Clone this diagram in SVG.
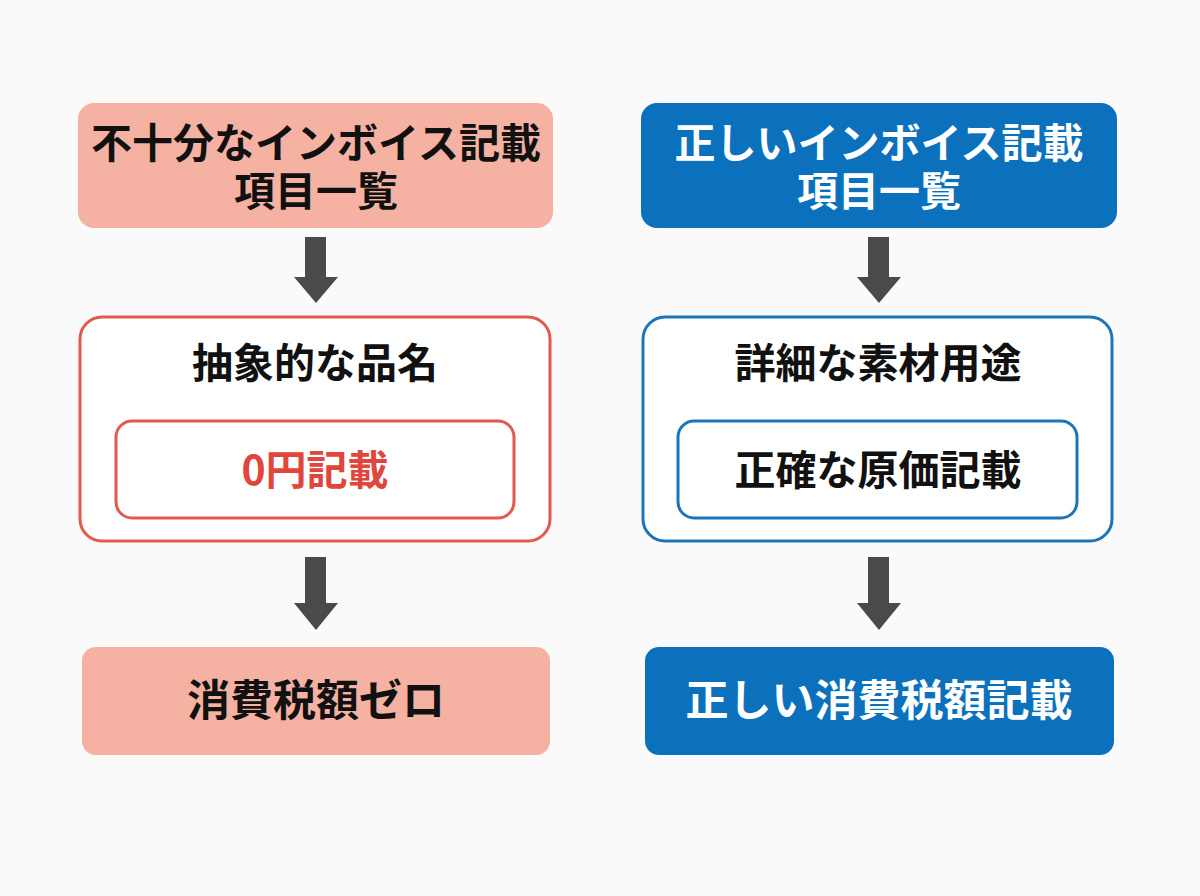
<svg xmlns="http://www.w3.org/2000/svg" width="1200" height="896" viewBox="0 0 1200 896">
<style>
text{font-family:"Noto Sans CJK JP","Liberation Sans",sans-serif;font-weight:700;text-anchor:middle;font-size:41px}
.big{font-size:43px}
.pink{fill:#F5B1A1}
.blue{fill:#0C71BC}
.ro{fill:#fff;stroke:#E05A4E;stroke-width:3}
.bo{fill:#fff;stroke:#1D75B9;stroke-width:3}
.k{fill:#111}
.w{fill:#fff}
.r{fill:#E0463B}
.ar{fill:#4A4A4A}
</style>
<rect width="1200" height="896" fill="#fafafa"/>
<g id="connectors">
<path class="ar" d="M305 237h21v40h12l-22 26l-22-26h11z"/>
<path class="ar" d="M305 557h21v46h12l-22 27l-22-27h11z"/>
<path class="ar" d="M868 237h21v40h12l-22 26l-22-26h11z"/>
<path class="ar" d="M868 557h21v46h12l-22 27l-22-27h11z"/>
</g>
<g id="l1"><rect class="pink" x="78" y="103" width="475" height="125" rx="16"/><text class="k" x="316" y="158">不十分なインボイス記載</text><text class="k" x="316" y="206">項目一覧</text></g>
<g id="l2"><rect class="ro" x="80" y="317" width="470" height="224" rx="22"/><text class="k" x="315" y="378">抽象的な品名</text></g>
<g id="l3"><rect class="ro" x="116" y="421" width="398" height="97" rx="16"/><text class="r" x="315" y="485">0円記載</text></g>
<g id="l4"><rect class="pink" x="82" y="647" width="468" height="108" rx="14"/><text class="k big" x="316" y="716">消費税額ゼロ</text></g>
<g id="r1"><rect class="blue" x="641" y="103" width="476" height="125" rx="16"/><text class="w" x="879" y="158">正しいインボイス記載</text><text class="w" x="879" y="206">項目一覧</text></g>
<g id="r2"><rect class="bo" x="643" y="317" width="469" height="224" rx="22"/><text class="k" x="878" y="378">詳細な素材用途</text></g>
<g id="r3"><rect class="bo" x="678" y="421" width="399" height="97" rx="16"/><text class="k" x="878" y="485">正確な原価記載</text></g>
<g id="r4"><rect class="blue" x="645" y="647" width="469" height="108" rx="14"/><text class="w big" x="879" y="716">正しい消費税額記載</text></g>
</svg>
